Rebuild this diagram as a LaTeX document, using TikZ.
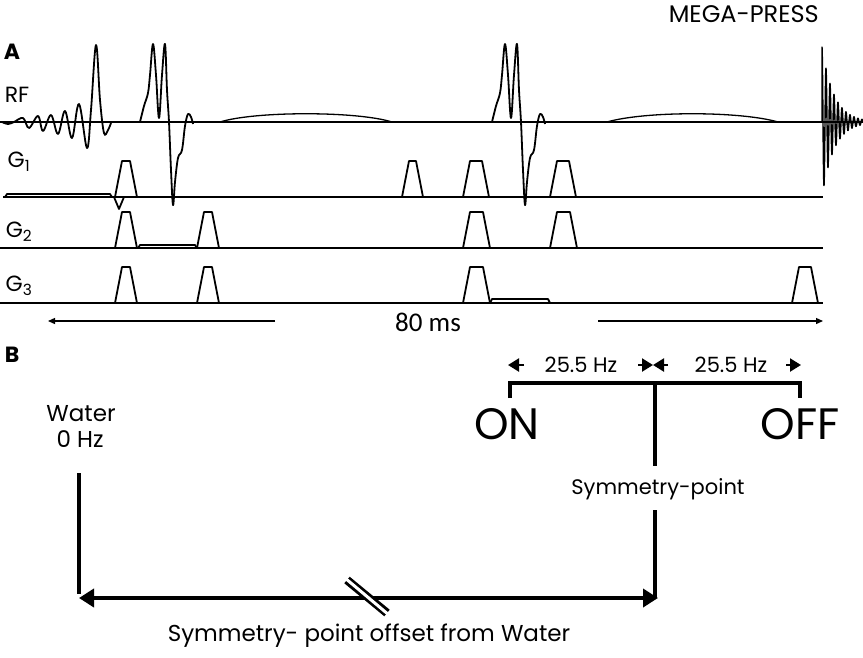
\documentclass[tikz,border=0pt]{standalone}
\usepackage{fontspec}
\setmainfont{Poppins}
\newfontfamily\msfont{Carlito}
\usetikzlibrary{arrows.meta}
\newcommand\gradtrap[4]{\draw[seq] (#1,#3) -- (#1+7,#4) -- (#2-7,#4) -- (#2,#3);}
\newcommand\refpulse{%
  \draw[seq] plot[smooth, tension=0.6] coordinates {(140,122) (144,106) (148,93) (150,75) (153,44) (156,75) (159,118) (162,75) (165,44) (167,90) (169,122) (171,170) (173,205) (175,182) (178,158) (182,150) (185,126) (188,114) (191,117) (193,124)};}
\begin{document}
\begin{tikzpicture}[x=1pt,y=-1pt,
  seq/.style={line width=1.8pt, line join=round},
  base/.style={line width=1.6pt},
  arcpulse/.style={line width=1.3pt},
  lbl/.style={font=\fontsize{22}{26}\selectfont, inner sep=0pt},
  panel/.style={font=\fontsize{22}{26}\selectfont\bfseries, inner sep=0pt},
  bline/.style={line width=3.8pt},
  timearr/.style={line width=1.3pt, -{Triangle[length=7pt,width=6pt]}},
  hzarr/.style={line width=2.2pt, -{Triangle[length=11pt,width=13pt]}},
  bigarr/.style={line width=3.8pt, {Triangle[length=15pt,width=18pt]}-{Triangle[length=15pt,width=18pt]}}]
\useasboundingbox (0,0) rectangle (863,657);

% ---------------- panel A ----------------
\node[panel] (A) at (12,52) {A};
\node[lbl] (RF) at (17,95) {RF};
\node[lbl] (G1) at (19,162) {G\textsubscript{1}};
\node[lbl] (G2) at (19,232) {G\textsubscript{2}};
\node[lbl] (G3) at (19,286) {G\textsubscript{3}};
\node[lbl, anchor=east, font=\fontsize{24}{28}\selectfont] (title) at (819,14) {MEGA-PRESS};

% baselines
\draw[base] (0,122) -- (863,122);
\draw[base] (3,197) -- (823,197);
\draw[base] (0,248) -- (823,248);
\draw[base] (0,303) -- (823,303);

% excitation pulse
\draw[seq] plot[smooth, tension=0.6] coordinates {(2,122) (8,124) (14,122) (23,118) (29,128) (38,116) (43,131) (51,115) (58,134) (65,111) (72,138) (79,104) (87,148) (91,110) (96,45) (100,100) (104,133) (108,130) (111,123)};
% refocusing pulses
\refpulse
\begin{scope}[xshift=352pt]\refpulse\end{scope}
% editing pulses
\draw[arcpulse] (220,122) .. controls (255,111) and (357,111) .. (392,122);
\draw[arcpulse] (607,122) .. controls (645,111) and (740,111) .. (778,122);
% FID
\draw[line width=1.4pt, line join=round] (822,122) -- (822,47) -- plot[domain=0:41, samples=330] ({822+\x}, {122-75*exp(-\x/12)*cos(90*\x)});

% gradients G1
\draw[seq] (5,197) -- (7,194) -- (110,194) -- (112,197);
\draw[seq] (114,197) -- (119,209) -- (124,197);
\gradtrap{115}{137}{197}{161}
\gradtrap{402}{423}{197}{161}
\gradtrap{463}{489}{197}{161}
\gradtrap{550}{576}{197}{161}
% G2
\gradtrap{115}{137}{248}{212}
\draw[seq] (138,248) -- (140,245) -- (195,245) -- (197,248);
\gradtrap{197}{219}{248}{212}
\gradtrap{463}{490}{248}{212}
\gradtrap{550}{577}{248}{212}
% G3
\gradtrap{115}{137}{303}{267}
\gradtrap{197}{219}{303}{267}
\gradtrap{463}{490}{303}{267}
\draw[seq] (490,303) -- (492,299) -- (548,299) -- (550,303);
\gradtrap{792}{818}{303}{267}

% time arrows
\node[inner sep=0pt, font=\msfont\fontsize{27}{30}\selectfont] (ms) at (428,322) {80 ms};
\coordinate (tl1) at (275,321); \coordinate (tl2) at (48,321);
\coordinate (tr1) at (598,321); \coordinate (tr2) at (823,321);
\draw[timearr] (tl1) -- (tl2);
\draw[timearr] (tr1) -- (tr2);

% ---------------- panel B ----------------
\node[panel] (B) at (12,355) {B};
\node[lbl, font=\fontsize{23}{26}\selectfont] (water) at (81,414) {Water};
\node[lbl, font=\fontsize{23}{26}\selectfont] (zero) at (80,439) {0 Hz};
\coordinate (wtop) at (79,473);
\coordinate (wbot) at (79,594);
\coordinate (aL) at (79,598);
\coordinate (aR) at (658,598);
\draw[bline] (wtop) -- (wbot);
\draw[bigarr] (aL) -- (aR);
% break mark
\draw[line width=8.5pt] (347,580) -- (387,613);
\draw[line width=3pt, white] (345,578) -- (389,615);

\coordinate (stop) at (655,383);
\coordinate (smid) at (655,466);
\coordinate (slow) at (655,510);
\coordinate (sbot) at (655,598);
\draw[bline] (stop) -- (smid);
\draw[bline] (slow) -- (sbot);
\coordinate (onend) at (510,398);
\coordinate (offend) at (800,398);
\draw[bline, line join=miter] (onend) -- (510,383) -- (800,383) -- (offend);

\node[font=\fontsize{44}{48}\selectfont, inner sep=0pt] (on) at (507,424) {ON};
\node[font=\fontsize{44}{48}\selectfont, inner sep=0pt] (off) at (800,424) {OFF};
\node[lbl, font=\fontsize{21}{24}\selectfont] (sym) at (658,489) {Symmetry-point};
\node[lbl, font=\fontsize{23}{26}\selectfont] (off1) at (369,636) {Symmetry- point offset from Water};

\node[font=\fontsize{21}{24}\selectfont, inner sep=0pt] (hz1) at (581,365) {25.5 Hz};
\node[font=\fontsize{21}{24}\selectfont, inner sep=0pt] (hz2) at (731,365) {25.5 Hz};
\draw[hzarr] (524,365) -- (508,365);
\draw[hzarr] (638,365) -- (653,365);
\draw[hzarr] (668,365) -- (653,365);
\draw[hzarr] (786,365) -- (801,365);
\end{tikzpicture}
\end{document}
